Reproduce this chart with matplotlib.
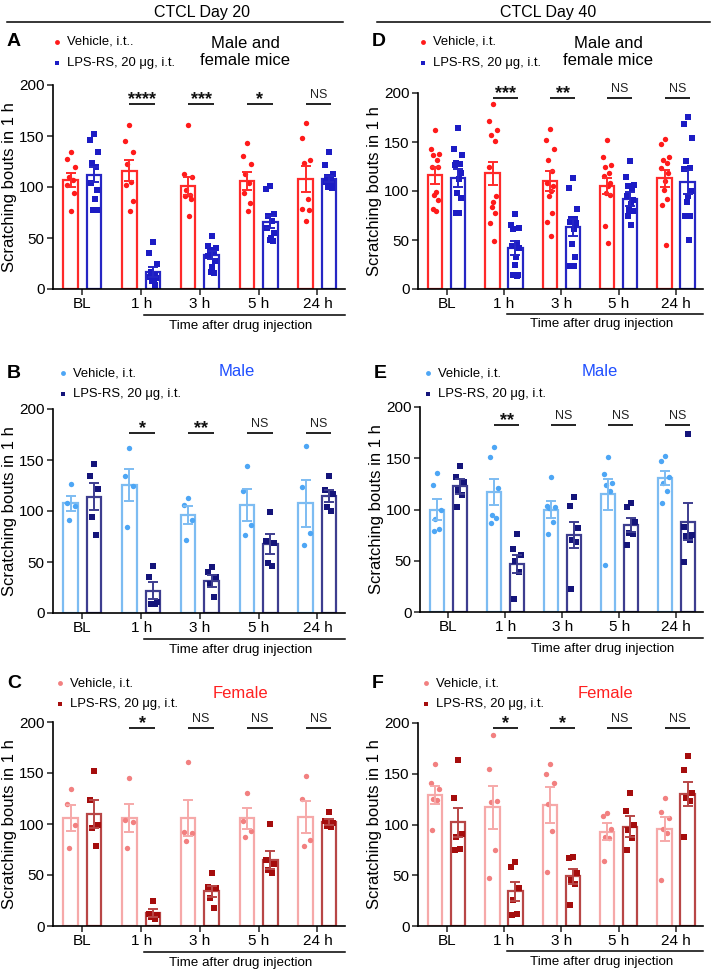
import numpy as np
import matplotlib.pyplot as plt
from matplotlib.lines import Line2D

plt.rcParams['font.family'] = ['Liberation Sans', 'DejaVu Sans']

times = ['BL', '1 h', '3 h', '5 h', '24 h']

# Panel A - CTCL day 20, male and female
a_veh_mean = [107, 116, 101, 106, 108]
a_veh_sem = [7, 10.5, 9, 9, 13]
a_lps_mean = [112, 17, 33, 66, 108]
a_lps_sem = [7.5, 5, 4, 6, 3]
a_veh_pts = [[134, 127, 120, 110, 107, 102, 94, 76],
             [161, 145, 134, 123, 105, 102, 86, 76],
             [161, 113, 110, 97, 92, 91, 88, 72],
             [143, 130, 123, 113, 104, 94, 84, 76],
             [163, 148, 126, 124, 88, 78, 77, 67]]
a_lps_pts = [[152, 146, 134, 124, 120, 104, 97, 88, 77, 77],
             [46, 35, 25, 17, 14, 12, 11, 9, 8, 4],
             [52, 42, 40, 38, 36, 32, 27, 22, 17, 16],
             [101, 98, 74, 72, 67, 60, 55, 50, 48, 47],
             [134, 122, 113, 110, 107, 105, 104, 102, 100, 99]]
a_sig = ['****', '***', '*', 'NS']

# Panel B - day 20, male
b_veh_mean = [107.5, 125.5, 96, 106, 107.5]
b_veh_sem = [7.5, 16, 9, 16, 23]
b_lps_mean = [114, 22, 31.5, 67.5, 115]
b_lps_sem = [13.5, 8, 6, 10, 6]
b_veh_pts = [[126, 108, 105, 91], [162, 134, 125, 84], [113, 106, 91, 72],
             [144, 120, 86, 76], [164, 124, 78, 67]]
b_lps_pts = [[146, 134, 122, 94, 76], [46, 35, 11, 9, 9], [45, 40, 35, 28, 16],
             [99, 71, 69, 49, 46], [134, 121, 117, 104, 100]]
b_sig = ['*', '**', 'NS', 'NS']

# Panel C - day 20, female
c_veh_mean = [106, 106, 106, 105.5, 107]
c_veh_sem = [13, 14, 18, 10.5, 16]
c_lps_mean = [110, 12.5, 34, 64.5, 102]
c_lps_sem = [14, 4, 5.5, 9, 2.5]
c_veh_pts = [[134, 120, 99, 76], [145, 104, 102, 76], [161, 92, 91, 83],
             [130, 103, 93, 87], [147, 125, 84, 78]]
c_lps_pts = [[152, 124, 99, 96, 78], [25, 12, 11, 9, 7], [52, 38, 37, 27, 18],
             [100, 65, 61, 55, 52], [112, 103, 101, 98, 97]]
c_sig = ['*', 'NS', 'NS', 'NS']

# Panel D - CTCL day 40, male and female
d_veh_mean = [116, 118, 110, 105, 113]
d_veh_sem = [8.5, 12, 10, 8, 8.5]
d_lps_mean = [113, 42, 63, 92, 109]
d_lps_sem = [9, 7, 8.5, 7, 12]
d_veh_pts = [[162, 143, 138, 137, 132, 125, 124, 99, 96, 91, 82, 80],
             [189, 171, 162, 157, 151, 125, 95, 89, 84, 78, 67, 49],
             [163, 152, 143, 132, 120, 108, 105, 100, 95, 78, 68, 54],
             [152, 135, 127, 125, 118, 115, 108, 105, 98, 96, 64, 47],
             [153, 148, 135, 132, 129, 123, 118, 110, 101, 92, 86, 45]]
d_lps_pts = [[164, 143, 137, 129, 128, 127, 118, 112, 98, 93, 78, 78],
             [77, 65, 62, 61, 47, 44, 42, 33, 25, 14, 14, 13],
             [113, 103, 82, 71, 71, 68, 67, 61, 46, 33, 23, 23],
             [131, 114, 106, 105, 102, 95, 91, 87, 81, 80, 75, 65],
             [176, 168, 154, 131, 123, 122, 100, 95, 89, 75, 74, 50]]
d_sig = ['***', '**', 'NS', 'NS']

# Panel E - day 40, male
e_veh_mean = [100, 117, 100, 115, 131]
e_veh_sem = [10, 13, 8, 15, 7]
e_lps_mean = [122.5, 47, 75, 85, 88]
e_lps_sem = [7, 9, 13, 6.5, 18]
e_veh_pts = [[136, 124, 100, 91, 81, 79], [161, 151, 121, 95, 92, 87],
             [132, 103, 102, 101, 88, 76], [151, 135, 126, 124, 118, 46],
             [152, 147, 132, 126, 118, 106]]
e_lps_pts = [[142, 132, 127, 119, 114, 102], [76, 61, 56, 50, 39, 13],
             [112, 103, 82, 70, 68, 22], [106, 102, 88, 77, 76, 65],
             [174, 83, 75, 74, 70, 49]]
e_sig = ['**', 'NS', 'NS', 'NS']

# Panel F - day 40, female
f_veh_mean = [129, 117, 119, 93, 95.5]
f_veh_sem = [9, 21, 17.5, 8, 11.5]
f_lps_mean = [102, 34, 49, 98, 130]
f_lps_sem = [14.5, 9.5, 7.5, 10, 12]
f_veh_pts = [[160, 141, 135, 125, 124, 95], [188, 155, 123, 122, 75, 47],
             [160, 150, 141, 120, 94, 53], [111, 108, 96, 88, 87, 64],
             [126, 112, 106, 96, 92, 45]]
f_lps_pts = [[164, 126, 91, 88, 76, 75], [63, 58, 37, 26, 12, 11],
             [68, 67, 52, 45, 41, 21], [131, 113, 100, 95, 87, 75],
             [167, 154, 131, 126, 123, 88]]
f_sig = ['*', '*', 'NS', 'NS']

W, H = 713, 974
fig = plt.figure(figsize=(W / 100, H / 100), dpi=100)


def fx(x):
    return x / W


def fy(y):
    return 1 - y / H


# colour sets: (veh point, veh bar, lps point, lps bar, title colour)
both_c = ('#ff1a1a', '#ff2a2a', '#1c1cc4', '#2626c4', 'black')
male_c = ('#4da6f5', '#7dbcf2', '#14147a', '#3d3d8f', '#1f4fff')
female_c = ('#f28080', '#f6a9a9', '#a50d0d', '#b84646', '#ff2020')


def jitter(n):
    pat = [0, -1, 1, -0.5, 0.5, -0.8, 0.8, 0.2, -0.2, 0.6, -0.6, 0.3]
    return np.array([pat[i % len(pat)] for i in range(n)]) * 0.07


def panel(rect, letter, veh_mean, veh_sem, lps_mean, lps_sem, veh_pts, lps_pts,
          sig, sig_y, cols, title, title_xy, leg_xy, veh_label):
    l, t, r, b = rect
    ax = fig.add_axes([fx(l), fy(b), fx(r) - fx(l), fy(t) - fy(b)])
    vp, vb, lp, lb, tc = cols
    x = np.arange(len(times))
    off, bw = 0.2, 0.25
    ax.bar(x - off, veh_mean, bw, facecolor='white', edgecolor=vb, linewidth=1.6, zorder=1)
    ax.bar(x + off, lps_mean, bw, facecolor='white', edgecolor=lb, linewidth=1.6, zorder=1)
    for i in range(len(times)):
        ax.scatter(x[i] - off + jitter(len(veh_pts[i])), veh_pts[i], s=15, marker='o',
                   color=vp, zorder=3, linewidths=0)
        ax.scatter(x[i] + off + jitter(len(lps_pts[i])), lps_pts[i], s=15, marker='s',
                   color=lp, zorder=3, linewidths=0)
    ax.errorbar(x - off, veh_mean, yerr=veh_sem, fmt='none', ecolor=vb, elinewidth=1.4,
                capsize=3.5, capthick=1.4, zorder=4)
    ax.errorbar(x + off, lps_mean, yerr=lps_sem, fmt='none', ecolor=lb, elinewidth=1.4,
                capsize=3.5, capthick=1.4, zorder=4)
    # significance bars
    for i, s in enumerate(sig):
        xc = x[i + 1]
        ax.plot([xc - 0.2, xc + 0.24], [sig_y, sig_y], color='#222222', lw=1.4,
                clip_on=False, solid_capstyle='butt')
        if s == 'NS':
            ax.text(xc + 0.02, sig_y + 3, s, ha='center', va='bottom', fontsize=9,
                    color='#222222', clip_on=False)
        else:
            ax.text(xc + 0.02, sig_y - 4, s, ha='center', va='bottom', fontsize=13,
                    fontweight='bold', color='#111111', clip_on=False)
    ax.set_xlim(-0.5, 4.47)
    ax.set_ylim(0, 200)
    ax.set_yticks([0, 50, 100, 150, 200])
    ax.set_xticks(x)
    ax.set_xticklabels(times)
    ax.tick_params(labelsize=11, length=4, width=1.1, color='#222222', pad=2)
    for sp in ['top', 'right']:
        ax.spines[sp].set_visible(False)
    for sp in ['left', 'bottom']:
        ax.spines[sp].set_linewidth(1.2)
    ax.set_ylabel('Scratching bouts in 1 h', fontsize=12)
    ax.yaxis.set_label_coords(-36 / (r - l), 0.5)
    # time after injection bracket
    tr = ax.get_xaxis_transform()
    ax.plot([1.05, 4.47], [-0.125, -0.125], color='black', lw=1.1, transform=tr,
            clip_on=False)
    ax.text(2.7, -0.15, 'Time after drug injection', transform=tr, ha='center',
            va='top', fontsize=9.6)
    # panel letter, legend and title
    fig.text(fx(l - 46), fy(leg_xy[1]), letter, fontsize=14, fontweight='bold',
             ha='left', va='center')
    mx, my = leg_xy
    fig.add_artist(Line2D([fx(mx)], [fy(my)], marker='o', markersize=3.5, color=vp,
                          linestyle='none', markeredgewidth=0))
    fig.add_artist(Line2D([fx(mx)], [fy(my + 21)], marker='s', markersize=3.5, color=lp,
                          linestyle='none', markeredgewidth=0))
    fig.text(fx(mx + 10), fy(my), veh_label, fontsize=9.4, ha='left', va='center')
    fig.text(fx(mx + 10), fy(my + 21), 'LPS-RS, 20 \u03bcg, i.t.', fontsize=9.4,
             ha='left', va='center')
    fig.text(fx(title_xy[0]), fy(title_xy[1]), title, fontsize=12, color=tc,
             ha='center', va='center', linespacing=1.2)
    return ax


panel((53, 85, 345, 289), 'A', a_veh_mean, a_veh_sem, a_lps_mean, a_lps_sem,
      a_veh_pts, a_lps_pts, a_sig, 181, both_c, 'Male and\nfemale mice', (245, 52),
      (57, 42), 'Vehicle, i.t..')
panel((53, 409, 345, 613), 'B', b_veh_mean, b_veh_sem, b_lps_mean, b_lps_sem,
      b_veh_pts, b_lps_pts, b_sig, 176, male_c, 'Male', (237, 372),
      (63, 373), 'Vehicle, i.t.')
panel((53, 722, 345, 926), 'C', c_veh_mean, c_veh_sem, c_lps_mean, c_lps_sem,
      c_veh_pts, c_lps_pts, c_sig, 194, female_c, 'Female', (240, 693),
      (60, 683), 'Vehicle, i.t.')
panel((418, 93, 703, 289), 'D', d_veh_mean, d_veh_sem, d_lps_mean, d_lps_sem,
      d_veh_pts, d_lps_pts, d_sig, 195, both_c, 'Male and\nfemale mice', (608, 52),
      (423, 42), 'Vehicle, i.t.')
panel((420, 407, 703, 612), 'E', e_veh_mean, e_veh_sem, e_lps_mean, e_lps_sem,
      e_veh_pts, e_lps_pts, e_sig, 182, male_c, 'Male', (600, 372),
      (428, 373), 'Vehicle, i.t.')
panel((418, 723, 703, 926), 'F', f_veh_mean, f_veh_sem, f_lps_mean, f_lps_sem,
      f_veh_pts, f_lps_pts, f_sig, 195, female_c, 'Female', (605, 693),
      (426, 683), 'Vehicle, i.t.')

# column headers
fig.text(fx(202), fy(12), 'CTCL Day 20', fontsize=11.5, ha='center', va='center')
fig.add_artist(Line2D([fx(7), fx(343)], [fy(22), fy(22)], color='black', lw=1.1))
fig.text(fx(548), fy(12), 'CTCL Day 40', fontsize=11.5, ha='center', va='center')
fig.add_artist(Line2D([fx(377), fx(710)], [fy(22), fy(22)], color='black', lw=1.1))

fig.savefig('out.png', dpi=100)
